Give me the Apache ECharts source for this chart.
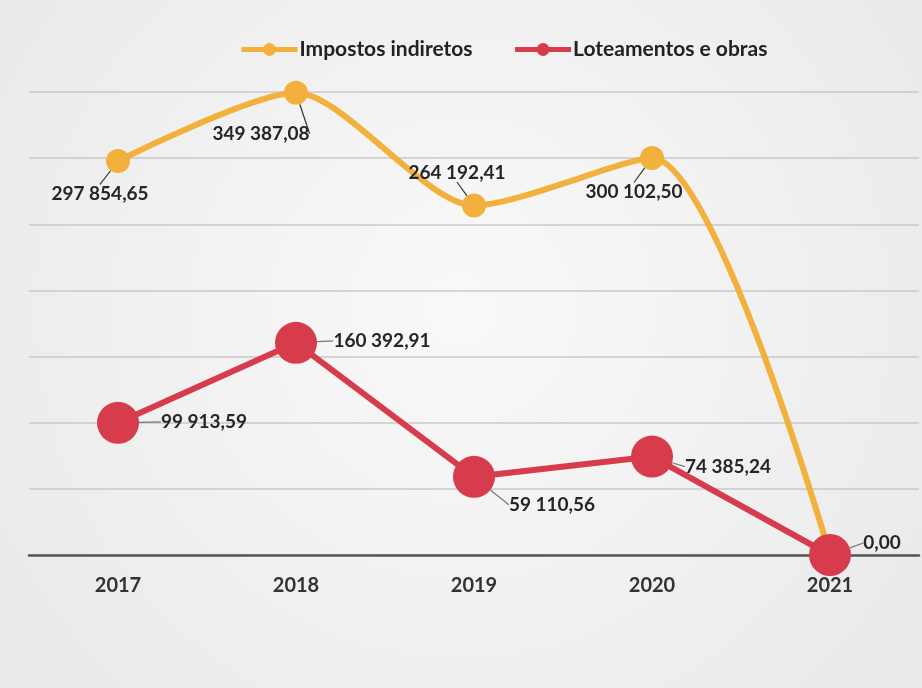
<!DOCTYPE html>
<html>
<head>
<meta charset="utf-8">
<script src="https://cdn.jsdelivr.net/npm/echarts@6/dist/echarts.min.js"></script>
<style>
  html, body { margin: 0; padding: 0; background: #f1f1f1; }
  #chart { width: 922px; height: 688px; }
</style>
</head>
<body>
<div id="chart"></div>
<script>
const years = ['2017', '2018', '2019', '2020', '2021']
const impostos = [297854.65, 349387.08, 264192.41, 300102.50, 0]
const loteamentos = [99913.59, 160392.91, 59110.56, 74385.24, 0]

// label offsets from the point (px), per series
const impostosOffsets = [[-18, 33], [-35, 41], [-17, -33], [-18, 34], null]
const loteOffsets = [[86, -1], [86, -2], [78, 28], [76, 10], [52, -12]]

const fmt = v => {
  const [i, d] = v.toFixed(2).split('.')
  return i.replace(/\B(?=(\d{3})+(?!\d))/g, ' ') + ',' + d
}

const chartDom = document.getElementById('chart')
const myChart = echarts.init(chartDom)

const labelStyle = {
  show: true,
  position: 'inside',
  fontFamily: 'Lato',
  fontWeight: 'bold',
  fontSize: 19,
  color: '#262626',
  formatter: p => fmt(p.value)
}

const option = {
  backgroundColor: {
    type: 'radial', x: 0.5, y: 0.45, r: 0.75,
    colorStops: [{ offset: 0, color: '#f9f9f9' }, { offset: 1, color: '#ebebeb' }]
  },
  animation: false,
  legend: {
    top: 34,
    left: 234,
    itemWidth: 56,
    itemHeight: 16,
    itemGap: 40,
    lineStyle: { width: 5 },
    textStyle: { fontFamily: 'Lato', fontWeight: 'bold', fontSize: 21, color: '#222', padding: [0, 0, 0, -3] },
    data: ['Impostos indiretos', 'Loteamentos e obras']
  },
  grid: { left: 29, right: 3, top: 92, bottom: 133 },
  xAxis: {
    type: 'category',
    data: years,
    axisLine: { lineStyle: { color: '#555', width: 2.5 } },
    axisTick: { show: false },
    axisLabel: { margin: 21, fontFamily: 'Lato', fontWeight: 'bold', fontSize: 20, color: '#333' }
  },
  yAxis: {
    type: 'value',
    min: 0,
    max: 350000,
    interval: 50000,
    axisLabel: { show: false },
    splitLine: { lineStyle: { color: '#c9c9c9', width: 1.5 } }
  },
  series: [
    {
      name: 'Impostos indiretos',
      type: 'line',
      data: impostos,
      smooth: 0.25,
      symbol: 'circle',
      symbolSize: 24,
      color: '#f2b03c',
      lineStyle: { width: 6, color: '#f2b03c' },
      label: {
        ...labelStyle,
        formatter: p => (impostosOffsets[p.dataIndex] ? fmt(p.value) : '')
      },
      labelLine: { show: true, lineStyle: { color: '#333', width: 1.2 } },
      labelLayout: p => {
        const o = impostosOffsets[p.dataIndex] || [0, 0]
        return { dx: o[0], dy: o[1] }
      }
    },
    {
      name: 'Loteamentos e obras',
      type: 'line',
      data: loteamentos,
      symbol: 'circle',
      symbolSize: 42,
      color: '#d63c4b',
      lineStyle: { width: 6, color: '#d63c4b' },
      label: labelStyle,
      labelLine: { show: true, lineStyle: { color: '#777', width: 1.2 } },
      labelLayout: p => {
        const o = loteOffsets[p.dataIndex]
        return { dx: o[0], dy: o[1] }
      }
    }
  ]
}
option && myChart.setOption(option)
</script>
</body>
</html>
